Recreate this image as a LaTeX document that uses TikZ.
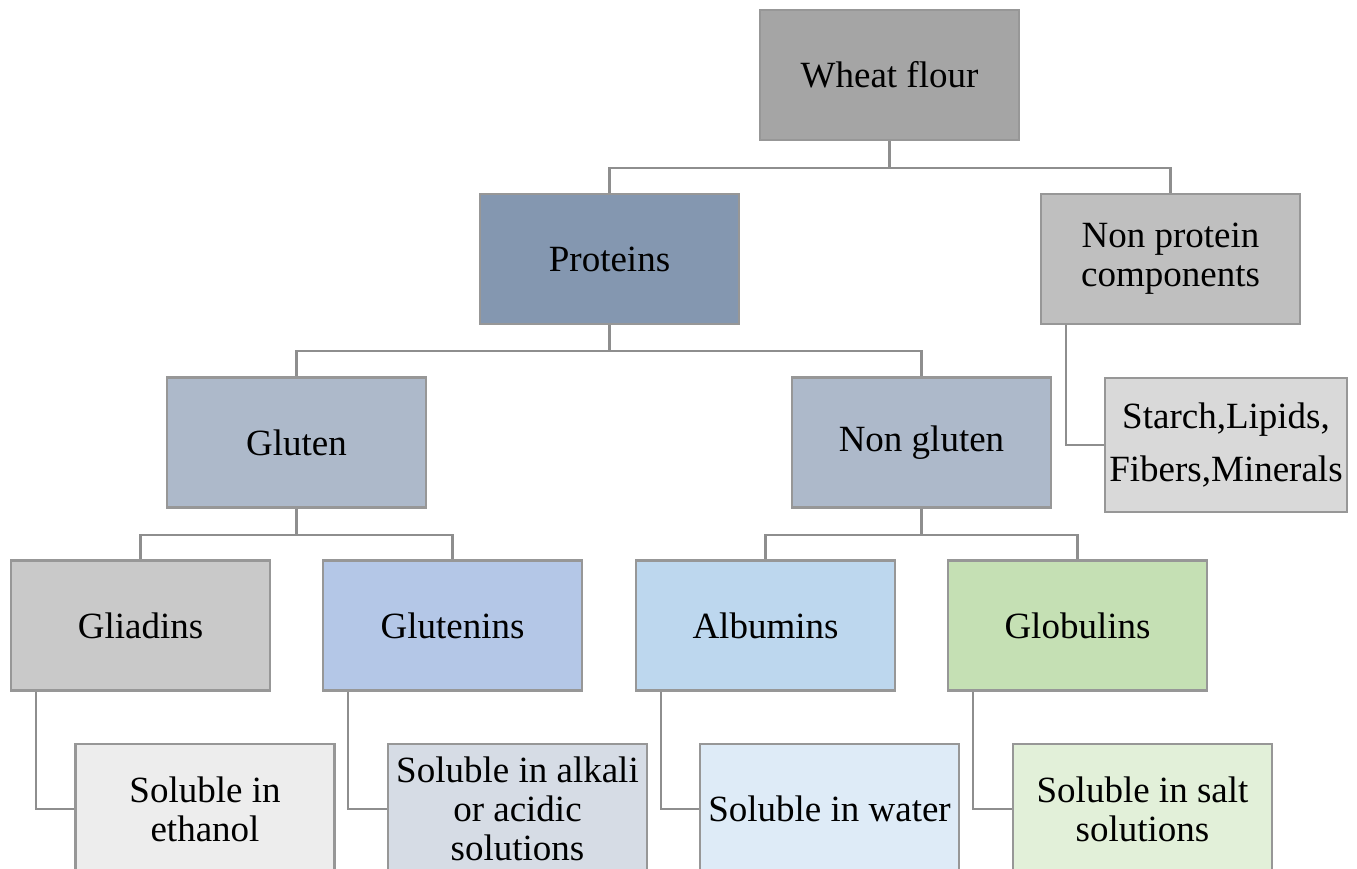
\documentclass[tikz,border=0pt]{standalone}
\usepackage{fontspec}
\setmainfont{Liberation Serif}
\usepackage{xcolor}
\usepackage{tikz}
\usetikzlibrary{positioning, calc}

\definecolor{boxline}{HTML}{979797}
\definecolor{linkline}{HTML}{8E8E8E}

\tikzset{
    box/.style={draw=boxline, line width=2.4pt, minimum width=259pt, minimum height=130pt,
        inner sep=2pt, align=center, font=\fontsize{37}{39}\selectfont},
    link/.style={draw=linkline, line width=2.2pt}
}

\begin{document}
\begin{tikzpicture}[x=1pt, y=-1pt]

    \useasboundingbox (0,0) rectangle (1357,869);
    \clip (0,0) rectangle (1357,869);

    % --- Top ---
    \node[box, fill={rgb,255:red,165;green,165;blue,165}] (wheat) at (889.5,75) {Wheat flour};

    % --- Second Row ---
    \node[box, fill={rgb,255:red,132;green,151;blue,176}] (proteins) at (609.5,259) {Proteins};
    \node[box, fill={rgb,255:red,191;green,191;blue,191}] (nonprot) at (1170.5,259) {Non protein\\components};

    % --- Third Row ---
    \node[box, fill={rgb,255:red,173;green,185;blue,202}] (gluten) at (296.5,442.5) {Gluten};
    \node[box, fill={rgb,255:red,173;green,185;blue,202}] (nongluten) at (921.5,442.5) {Non gluten};
    \node[box, fill={rgb,255:red,217;green,217;blue,217}, minimum width=242pt, minimum height=134pt,
        font=\fontsize{37}{53}\selectfont] (starch) at (1226,445) {Starch,Lipids,\\Fibers,Minerals};

    % --- Fourth Row ---
    \node[box, fill={rgb,255:red,201;green,201;blue,201}] (gliadins) at (140.5,625.5) {Gliadins};
    \node[box, fill={rgb,255:red,180;green,199;blue,231}] (glutenins) at (452.5,625.5) {Glutenins};
    \node[box, fill={rgb,255:red,189;green,215;blue,238}] (albumins) at (765.5,625.5) {Albumins};
    \node[box, fill={rgb,255:red,197;green,224;blue,180}] (globulins) at (1077.5,625.5) {Globulins};

    % --- Bottom Row (solubility) ---
    \node[box, fill={rgb,255:red,237;green,237;blue,237}] (ethanol) at (205,809) {Soluble in\\ethanol};
    \node[box, fill={rgb,255:red,214;green,220;blue,229}] (alkali) at (517.5,809) {Soluble in alkali\\or acidic\\solutions};
    \node[box, fill={rgb,255:red,222;green,235;blue,247}] (water) at (829.5,809) {Soluble in water};
    \node[box, fill={rgb,255:red,226;green,240;blue,217}] (salt) at (1142.5,809) {Soluble in salt\\solutions};

    % --- Tree Connectors ---
    \draw[link] (wheat.south) -- ++(0,27) -| (proteins.north);
    \draw[link] (wheat.south) -- ++(0,27) -| (nonprot.north);
    \draw[link] (proteins.south) -- ++(0,26) -| (gluten.north);
    \draw[link] (proteins.south) -- ++(0,26) -| (nongluten.north);
    \draw[link] (gluten.south) -- ++(0,26) -| (gliadins.north);
    \draw[link] (gluten.south) -- ++(0,26) -| (glutenins.north);
    \draw[link] (nongluten.south) -- ++(0,26) -| (albumins.north);
    \draw[link] (nongluten.south) -- ++(0,26) -| (globulins.north);

    % --- Side Connectors ---
    \draw[link] (nonprot.south west) ++(26,0) |- (starch.west);
    \draw[link] (gliadins.south west) ++(26,0) |- (ethanol.west);
    \draw[link] (glutenins.south west) ++(26,0) |- (alkali.west);
    \draw[link] (albumins.south west) ++(26,0) |- (water.west);
    \draw[link] (globulins.south west) ++(26,0) |- (salt.west);

\end{tikzpicture}
\end{document}
